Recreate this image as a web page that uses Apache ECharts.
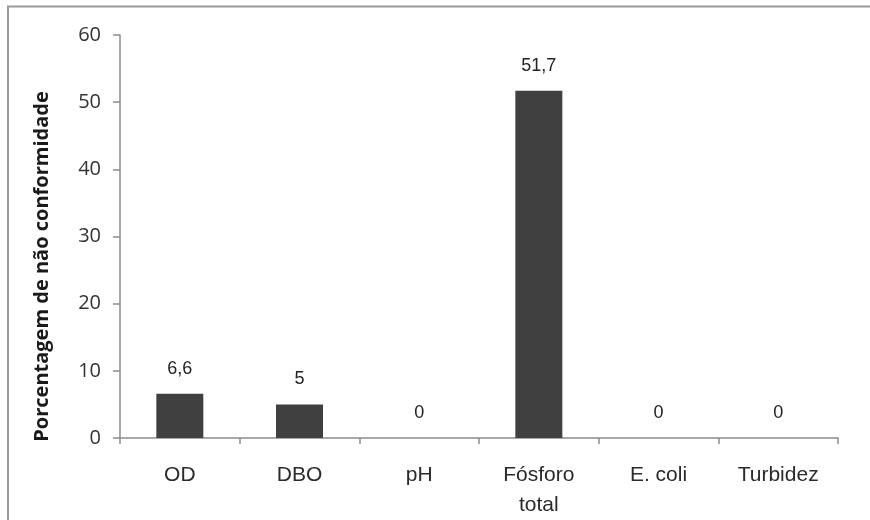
<!DOCTYPE html>
<html>
<head>
<meta charset="utf-8">
<script src="https://cdn.jsdelivr.net/npm/echarts@6/dist/echarts.min.js"></script>
<style>
  html, body { margin: 0; padding: 0; background: #ffffff; }
  #chart { width: 870px; height: 520px; }
</style>
</head>
<body>
<div id="chart"></div>
<script>
// Parameters evaluated
const categories = ['OD', 'DBO', 'pH', 'Fósforo\ntotal', 'E. coli', 'Turbidez'];
// Percentage of non-conforming samples
const values = [6.6, 5, 0, 51.7, 0, 0];
const yTicks = { min: 0, max: 60, interval: 10 };

const chart = echarts.init(document.getElementById('chart'), null, { renderer: 'canvas' });

chart.setOption({
  animation: false,
  backgroundColor: '#ffffff',
  graphic: [{
    type: 'rect',
    shape: { x: 8, y: 6.5, width: 900, height: 600 },
    style: { fill: 'none', stroke: '#9a9a9a', lineWidth: 2 },
    silent: true
  }],
  grid: { left: 120, right: 32, top: 35, bottom: 81 },
  xAxis: {
    type: 'category',
    data: categories,
    boundaryGap: true,
    axisLine: { lineStyle: { color: '#8c8c8c', width: 1.5 } },
    axisTick: { show: true, alignWithLabel: false, length: 6, lineStyle: { color: '#8c8c8c', width: 1.5 } },
    axisLabel: {
      color: '#2a2a2a',
      fontFamily: 'Liberation Sans, Arial, sans-serif',
      fontSize: 21,
      margin: 22,
      lineHeight: 30,
      interval: 0
    }
  },
  yAxis: {
    type: 'value',
    min: yTicks.min,
    max: yTicks.max,
    interval: yTicks.interval,
    name: 'Porcentagem de não conformidade',
    nameLocation: 'middle',
    nameGap: 68,
    nameTextStyle: {
      color: '#1a1a1a',
      fontFamily: 'Open Sans, Noto Sans, sans-serif',
      fontWeight: 'bold',
      fontSize: 20,
      padding: [0, 60, 0, 0]
    },
    splitLine: { show: false },
    axisLine: { show: true, lineStyle: { color: '#8c8c8c', width: 1.5 } },
    axisTick: { show: true, length: 7, lineStyle: { color: '#8c8c8c', width: 1.5 } },
    axisLabel: {
      color: '#333333',
      fontFamily: 'Open Sans, Noto Sans, sans-serif',
      fontSize: 20,
      margin: 19
    }
  },
  series: [{
    type: 'bar',
    data: values,
    barWidth: 47,
    itemStyle: { color: '#404040', borderWidth: 0 },
    label: {
      show: true,
      position: 'top',
      distance: 16,
      color: '#222222',
      fontFamily: 'Liberation Sans, Arial, sans-serif',
      fontSize: 18,
      formatter: p => String(p.value).replace('.', ',')
    }
  }]
});
</script>
</body>
</html>
